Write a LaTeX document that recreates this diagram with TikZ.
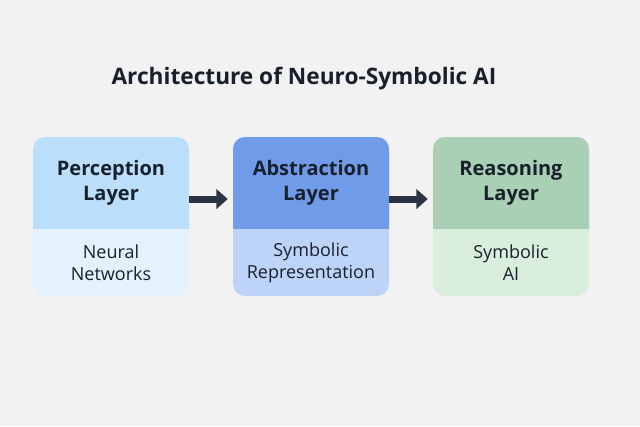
\documentclass[tikz,border=0pt]{standalone}
\usepackage{fontspec}
\setmainfont{Open Sans}
\usetikzlibrary{positioning,arrows.meta}

\definecolor{bg}{HTML}{F2F2F2}
\definecolor{ink}{HTML}{18202C}
\definecolor{arrowc}{HTML}{2B3445}
\definecolor{percHead}{HTML}{BBDEFB}
\definecolor{percBody}{HTML}{E3F2FD}
\definecolor{abstHead}{HTML}{6F9BE8}
\definecolor{abstBody}{HTML}{BDD3F8}
\definecolor{reasHead}{HTML}{A9CFB5}
\definecolor{reasBody}{HTML}{D9EEDD}

\begin{document}
\begin{tikzpicture}[x=0.75pt, y=0.75pt,
	head/.style={minimum width=117pt, minimum height=68.25pt, inner sep=0pt, align=center,
		font=\bfseries\fontsize{15}{19}\selectfont, text=ink},
	body/.style={minimum width=117pt, minimum height=51pt, inner sep=0pt, align=center,
		font=\fontsize{13.5}{16.5}\selectfont, text=ink},
	link/.style={-{Triangle[width=14.5pt, length=8.5pt]}, line width=5.25pt, draw=arrowc}]
	%\draw[help lines] (0,0) grid[step=20] (640,426);
	
	\fill[bg] (0,0) rectangle (640,426);
	\useasboundingbox (0,0) rectangle (640,426);
	
	\foreach \n/\x in {perc/111, abst/311, reas/511}
	{
		\fill[fill=\n Body, rounded corners=9pt] (\x-78, 130) rectangle (\x+78, 289);
		\begin{scope}
			\clip (\x-78, 198) rectangle (\x+78, 289);
			\fill[fill=\n Head, rounded corners=9pt] (\x-78, 130) rectangle (\x+78, 289);
		\end{scope}
	}
	
	\node[font=\bfseries\fontsize{17}{20}\selectfont, text=ink] (title) at (304,347) {Architecture of Neuro-Symbolic AI};
	
	\node[head] (perc-h) at (111, 243.5) {Perception\\Layer};
	\node[body, below=0pt of perc-h] (perc-b) {Neural\\Networks};
	\node[head] (abst-h) at (311, 243.5) {Abstraction\\Layer};
	\node[body, below=0pt of abst-h] (abst-b) {Symbolic\\Representation};
	\node[head] (reas-h) at (511, 243.5) {Reasoning\\Layer};
	\node[body, below=0pt of reas-h] (reas-b) {Symbolic\\AI};
	
	\draw[link] ([yshift=-12.4pt]perc-h.east) -- ([yshift=-12.4pt, xshift=-3.75pt]abst-h.west);
	\draw[link] ([yshift=-12.4pt]abst-h.east) -- ([yshift=-12.4pt, xshift=-3.75pt]reas-h.west);
\end{tikzpicture}
\end{document}
